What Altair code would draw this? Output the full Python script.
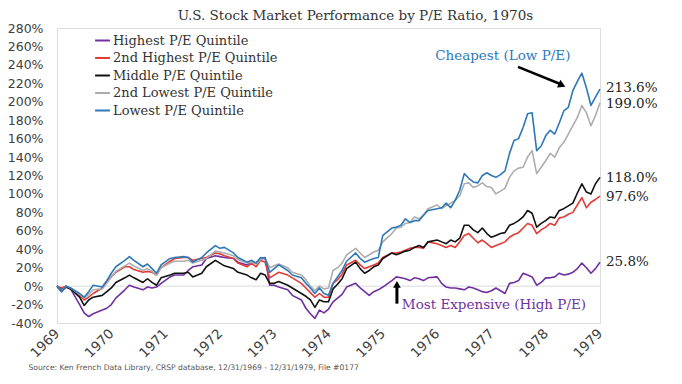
import altair as alt
import pandas as pd

# Month index since 12/31/1969 (0..120) at which values were read
months = [0, 1, 2, 3, 5, 6, 7, 8, 10, 11, 12, 13, 15, 16, 17, 19, 20, 21, 22, 23, 25, 26, 28, 29, 30, 32,
          33, 35, 36, 37, 39, 40, 42, 43, 44, 45, 46, 47, 48, 49, 51, 52, 54, 55, 56, 57, 58, 59, 60, 61, 62, 63,
          64, 66, 67, 68, 69, 70, 71, 72, 74, 75, 76, 77, 78, 79, 80, 81, 82, 84, 85, 86, 87, 88, 89,
          90, 91, 92, 93, 94, 95, 96, 97, 98, 99, 100, 101, 102, 103, 104, 105, 106, 107, 108, 109, 110,
          111, 112, 113, 114, 115, 116, 117, 118, 119, 120]

highest = [0, -6, -1, -3, -20, -29, -33, -30, -26, -24, -20, -13, -4, 1, -1, -4, -1, -2, -1, 3, 10, 12, 12, 17, 21, 23,
           30, 33, 32, 31, 30, 26, 23, 26, 25, 30, 31, 1, 1, -1, -4, -10, -15, -24, -30, -35, -26, -29, -25, -17, -13, -9,
           -1, 3, -2, -6, -10, -6, -4, -1, 6, 10, 9, 8, 6, 9, 8, 6, 9, 10, 3, -1, -2, -2, -3,
           -4, -1, -2, -4, -6, -7, -5, -2, -5, -8, 3, 4, 6, 14, 12, 10, 1, 4, 9, 9, 10,
           14, 12, 13, 15, 19, 25, 20, 14, 19, 25.8]

second_highest = [0, -2, 0, -3, -10, -15, -12, -8, -2, 5, 10, 15, 21, 21, 18, 15, 16, 15, 12, 20, 27, 30, 31, 31, 28, 30,
                  31, 36, 35, 33, 30, 25, 21, 25, 21, 28, 26, 9, 12, 15, 12, 9, 3, -2, -7, -12, -8, -12, -12, 3, 7, 13,
                  23, 28, 23, 19, 21, 23, 25, 31, 36, 36, 37, 39, 41, 42, 42, 41, 48, 46, 44, 42, 44, 42, 48,
                  55, 57, 52, 47, 50, 46, 42, 44, 46, 48, 53, 56, 58, 63, 68, 66, 57, 61, 64, 68, 66,
                  74, 75, 78, 80, 88, 96, 85, 91, 94, 97.6]

middle = [0, -4, -1, -3, -12, -21, -15, -12, -10, -6, -2, 4, 9, 12, 9, 4, 8, 4, 1, 9, 12, 14, 14, 15, 10, 14,
          21, 28, 25, 22, 19, 15, 12, 9, 7, 14, 12, 3, 3, 5, 1, -2, -8, -11, -15, -23, -15, -17, -17, -3, 2, 8,
          19, 26, 19, 14, 17, 21, 23, 30, 36, 34, 36, 38, 39, 42, 44, 42, 48, 50, 48, 46, 50, 48, 52,
          66, 66, 61, 58, 63, 57, 53, 55, 57, 58, 66, 68, 71, 75, 82, 79, 64, 68, 71, 75, 74,
          82, 84, 87, 90, 101, 111, 102, 100, 111, 118.0]

second_lowest = [0, -5, 0, -2, -9, -13, -9, -4, -3, 3, 10, 16, 22, 25, 22, 17, 19, 16, 12, 20, 25, 27, 27, 28, 25, 28,
                 30, 38, 37, 36, 33, 29, 25, 26, 24, 29, 30, 20, 22, 24, 20, 15, 12, 7, 0, -5, 0, -3, -2, 17, 20, 25,
                 34, 41, 36, 31, 34, 37, 39, 48, 57, 63, 64, 68, 69, 75, 73, 77, 84, 88, 84, 87, 90, 93, 98,
                 111, 112, 107, 109, 112, 108, 107, 100, 103, 106, 118, 125, 128, 129, 140, 147, 122, 129, 136, 144, 140,
                 150, 156, 165, 174, 183, 196, 188, 174, 185, 199.0]

lowest = [0, -6, 0, -2, -8, -12, -6, 1, -1, 6, 14, 21, 28, 32, 28, 21, 24, 19, 14, 23, 30, 31, 32, 31, 26, 31,
          36, 44, 41, 42, 36, 31, 26, 28, 25, 31, 30, 15, 19, 23, 17, 12, 9, 3, -2, -8, -2, -8, -10, 3, 10, 17,
          27, 36, 30, 26, 28, 30, 31, 55, 63, 64, 66, 73, 69, 71, 71, 77, 82, 84, 85, 90, 85, 93, 104,
          122, 117, 113, 112, 120, 123, 120, 118, 121, 125, 144, 158, 160, 172, 187, 188, 147, 152, 163, 169, 165,
          177, 190, 194, 212, 222, 231, 215, 196, 205, 213.6]

series_names = ["Highest P/E Quintile", "2nd Highest P/E Quintile", "Middle P/E Quintile",
                "2nd Lowest P/E Quintile", "Lowest P/E Quintile"]
series_colors = ["#7030A0", "#E33B36", "#111111", "#ADADAD", "#2E78B7"]
series_values = [highest, second_highest, middle, second_lowest, lowest]

end_labels = ["25.8%", "97.6%", "118.0%", "199.0%", "213.6%"]
end_label_pos = [25.8, 96.5, 117.5, 197.5, 214.5]

year_ticks = list(range(1969, 1980))
y_ticks = list(range(-40, 281, 20))

for v in series_values:
    assert len(v) == len(months), len(v)

rows = []
for name, vals in zip(series_names, series_values):
    for m, v in zip(months, vals):
        rows.append({"year": 1969 + m / 12.0, "value": v, "series": name, "order": series_names.index(name)})
df = pd.DataFrame(rows)

ends = pd.DataFrame({"year": [1979] * 5, "value": end_label_pos, "label": end_labels})

x_scale = alt.Scale(domain=[1969, 1979], nice=False, zero=False)
y_scale = alt.Scale(domain=[-40, 280], nice=False, zero=False)

x_axis = alt.Axis(values=year_ticks, format="d", labelAngle=-45, labelAlign="right",
                  labelBaseline="middle", labelPadding=8, ticks=False, domain=False, grid=False,
                  labelOverlap=False, labelBound=False, labelFlush=False,
                  labelFont="DejaVu Sans", labelFontSize=13.5, labelColor="#404040",
                  title="Source: Ken French Data Library, CRSP database, 12/31/1969 - 12/31/1979, File #0177",
                  titleFont="DejaVu Sans", titleFontSize=7.6, titleFontWeight="normal",
                  titleColor="#555555", titleAnchor="start", titleAlign="left",
                  titleX=-29, titleY=44, titleBaseline="middle")
y_axis = alt.Axis(values=y_ticks, labelExpr="datum.value + '%'", ticks=False, domain=False,
                  grid=False, labelPadding=14, labelFont="DejaVu Sans", labelFontSize=12.5,
                  labelOverlap=False, labelBound=False, labelFlush=False,
                  labelColor="#404040", title=None)


def X(field):
    return alt.X(field, scale=x_scale, axis=x_axis)


def Y(field):
    return alt.Y(field, scale=y_scale, axis=y_axis)


zero = alt.Chart(pd.DataFrame({"year": [1969], "value": [0]})).mark_rule(
    color="#D9D9D9", strokeWidth=1).encode(y=Y("value:Q"))

lines = alt.Chart(df).mark_line(strokeWidth=1.6, strokeJoin="round").encode(
    x=X("year:Q"),
    y=Y("value:Q"),
    color=alt.Color("series:N", scale=alt.Scale(domain=series_names, range=series_colors),
                    legend=alt.Legend(title=None, orient="none", legendX=37, legendY=4, padding=0,
                                      symbolType="stroke", symbolSize=220, symbolStrokeWidth=2,
                                      labelFont="DejaVu Serif", labelFontSize=13, labelColor="#333333",
                                      labelLimit=400, labelOffset=2, rowPadding=1.5)),
    order="order:Q",
)

end_text = alt.Chart(ends).mark_text(align="left", baseline="middle", dx=6, font="DejaVu Serif",
                                     fontSize=13.5, color="#222222").encode(
    x=X("year:Q"), y=Y("value:Q"), text="label:N")

# annotations
cheap_text = alt.Chart(pd.DataFrame({"year": [1977.21], "value": [249.5], "t": ["Cheapest (Low P/E)"]})).mark_text(
    align="center", baseline="middle", font="DejaVu Serif", fontSize=13.5, color="#2E78B7").encode(
    x=X("year:Q"), y=Y("value:Q"), text="t:N")

cheap_arrow = alt.Chart(pd.DataFrame({"x1": [1977.49], "y1": [237.8], "x2": [1978.28], "y2": [219.0]})).mark_rule(
    color="black", strokeWidth=2.5).encode(
    x=X("x1:Q"), y=Y("y1:Q"), x2="x2:Q", y2="y2:Q")

cheap_head = alt.Chart(pd.DataFrame({"year": [1978.3], "value": [218.0]})).mark_point(
    shape="triangle-right", filled=True, size=70, angle=24, color="black", opacity=1).encode(
    x=X("year:Q"), y=Y("value:Q"))

exp_text = alt.Chart(pd.DataFrame({"year": [1975.35], "value": [-20.5], "t": ["Most Expensive (High P/E)"]})).mark_text(
    align="left", baseline="middle", font="DejaVu Serif", fontSize=13.5, color="#7030A0").encode(
    x=X("year:Q"), y=Y("value:Q"), text="t:N")

exp_arrow = alt.Chart(pd.DataFrame({"x1": [1975.26], "y1": [-19.0], "y2": [0.5]})).mark_rule(
    color="black", strokeWidth=3).encode(
    x=X("x1:Q"), y=Y("y1:Q"), y2="y2:Q")

exp_head = alt.Chart(pd.DataFrame({"year": [1975.26], "value": [2.0]})).mark_point(
    shape="triangle-up", filled=True, size=60, color="black", opacity=1).encode(
    x=X("year:Q"), y=Y("value:Q"))

chart = alt.layer(zero, lines, end_text, cheap_text, cheap_arrow, cheap_head, exp_text, exp_arrow, exp_head).properties(
    width=543, height=295,
    autosize=alt.AutoSizeParams(type="none"),
    padding={"left": 49, "top": 20, "right": 74, "bottom": 53},
    title=alt.TitleParams("U.S. Stock Market Performance by P/E Ratio, 1970s", font="DejaVu Serif",
                          fontSize=13.5, fontWeight="normal", color="#333333", anchor="middle",
                          dx=27, offset=0),
).configure_view(stroke="#D9D9D9", strokeWidth=1).configure(background="white")

chart.save("out.html", embed_options={"renderer": "svg", "actions": False})
